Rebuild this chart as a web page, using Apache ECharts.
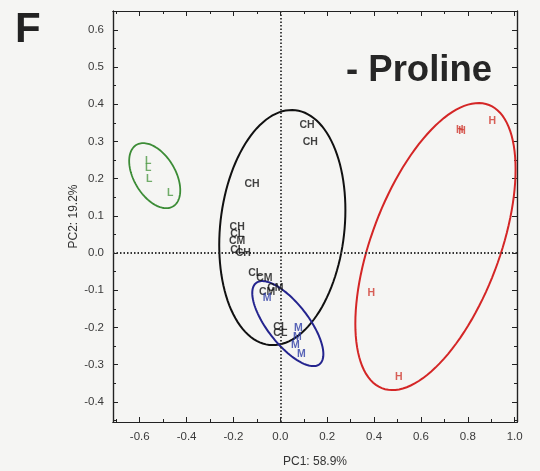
<!DOCTYPE html>
<html>
<head>
<meta charset="utf-8">
<script src="https://cdn.jsdelivr.net/npm/echarts@6/dist/echarts.min.js"></script>
<style>
html,body{margin:0;padding:0;background:#f5f5f3;}
#chart{width:540px;height:471px;}
</style>
</head>
<body>
<div id="chart"></div>
<script>
// Tick values
const xTickLabels = [-0.6, -0.4, -0.2, 0.0, 0.2, 0.4, 0.6, 0.8, 1.0];
const xMinorTicks = [-0.7, -0.5, -0.3, -0.1, 0.1, 0.3, 0.5, 0.7, 0.9];
const yTickLabels = [-0.4, -0.3, -0.2, -0.1, 0.0, 0.1, 0.2, 0.3, 0.4, 0.5, 0.6];
const yMinorTicks = [-0.45, -0.35, -0.25, -0.15, -0.05, 0.05, 0.15, 0.25, 0.35, 0.45, 0.55, 0.65];

// Scores: [PC1, PC2, label]
const groupL = [
  [-0.564, 0.247, 'L'], [-0.564, 0.228, 'L'], [-0.560, 0.199, 'L'], [-0.470, 0.161, 'L']
];
const groupC = [
  [0.114, 0.344, 'CH'], [0.128, 0.298, 'CH'], [-0.121, 0.185, 'CH'],
  [-0.184, 0.070, 'CH'], [-0.184, 0.051, 'CL'], [-0.184, 0.032, 'CM'], [-0.184, 0.008, 'CL'],
  [-0.158, 0.000, 'CH'], [-0.107, -0.054, 'CL'], [-0.068, -0.067, 'CM'],
  [-0.021, -0.094, 'CM'], [-0.056, -0.105, 'CM'],
  [0.000, -0.198, 'CL'], [0.000, -0.215, 'CL']
];
const groupM = [
  [-0.056, -0.121, 'M'], [0.077, -0.202, 'M'], [0.073, -0.226, 'M'], [0.064, -0.247, 'M'], [0.090, -0.272, 'M']
];
const groupH = [
  [0.766, 0.331, 'H'], [0.775, 0.328, 'H'], [0.905, 0.355, 'H'], [0.388, -0.108, 'H'], [0.506, -0.334, 'H']
];

// Confidence ellipses: centre (cx, cy) and two conjugate semi-axis vectors (ux, uy), (vx, vy)
const ellipseL = [-0.536, 0.208, 0.109, -0.0394, 0.0, -0.078];
const ellipseC = [0.0085, 0.0685, 0.2692, 0.0469, 0.0, -0.3124];
const ellipseM = [0.032, -0.1895, 0.1517, -0.082, 0.0, -0.0796];
const ellipseH = [0.662, 0.0175, 0.3419, 0.2073, 0.0, -0.3253];

const colL = '#4f9a45', colLe = '#3c8c36';
const colC = '#111111', colCe = '#111111';
const colM = '#2f3fa6', colMe = '#24248e';
const colH = '#d0382e', colHe = '#d42626';

const X_MIN = -0.714, X_MAX = 1.01, Y_MIN = -0.454, Y_MAX = 0.6505;

function ellipseSeries(params, color, width) {
  return {
    type: 'custom',
    xAxisIndex: 0, yAxisIndex: 0,
    data: [params],
    encode: { x: 0, y: 1 },
    silent: true,
    z: 2,
    renderItem: function (p, api) {
      const cx = api.value(0), cy = api.value(1), ux = api.value(2), uy = api.value(3), vx = api.value(4), vy = api.value(5);
      const pts = [];
      const n = 120;
      for (let i = 0; i < n; i++) {
        const t = 2 * Math.PI * i / n;
        pts.push(api.coord([cx + ux * Math.cos(t) + vx * Math.sin(t), cy + uy * Math.cos(t) + vy * Math.sin(t)]));
      }
      return { type: 'polygon', shape: { points: pts }, style: { fill: 'none', stroke: color, lineWidth: width } };
    }
  };
}

function labelSeries(data, color) {
  return {
    type: 'scatter',
    xAxisIndex: 0, yAxisIndex: 0,
    data: data,
    symbolSize: 1,
    itemStyle: { color: 'rgba(0,0,0,0)' },
    z: 5,
    label: {
      show: true, position: 'inside',
      formatter: p => p.data[2],
      color: color, fontSize: 10.5, fontWeight: 'bold', fontFamily: 'Liberation Sans, Arial, sans-serif'
    },
    labelLayout: { hideOverlap: false },
    emphasis: { disabled: true }
  };
}

const fmt = v => (Math.abs(v) < 1e-9 ? 0 : v).toFixed(1);
const axisLineStyle = { color: '#222', width: 1.2 };
const tickStyle = { color: '#222', width: 1 };
const labelFont = { color: '#3a3a3a', fontSize: 11.5, fontFamily: 'Liberation Sans, Arial, sans-serif' };

function xAx(pos, values, len, labels, extra) {
  return Object.assign({
    type: 'value', position: pos, min: X_MIN, max: X_MAX,
    axisLine: { show: true, onZero: false, lineStyle: axisLineStyle },
    axisTick: { show: true, inside: true, length: len, customValues: values, lineStyle: tickStyle },
    axisLabel: labels ? Object.assign({ show: true, customValues: values, formatter: fmt, margin: 9 }, labelFont) : { show: false },
    splitLine: { show: false }
  }, extra || {});
}
function yAx(pos, values, len, labels, extra) {
  return Object.assign({
    type: 'value', position: pos, min: Y_MIN, max: Y_MAX,
    axisLine: { show: true, onZero: false, lineStyle: axisLineStyle },
    axisTick: { show: true, inside: true, length: len, customValues: values, lineStyle: tickStyle },
    axisLabel: labels ? Object.assign({ show: true, customValues: values, formatter: fmt, margin: 9 }, labelFont) : { show: false },
    splitLine: { show: false }
  }, extra || {});
}

const chart = echarts.init(document.getElementById('chart'), null, { renderer: 'canvas' });
chart.setOption({
  backgroundColor: '#f5f5f3',
  animation: false,
  grid: { left: 113, right: 23, top: 11, bottom: 49, containLabel: false, outerBoundsMode: 'none' },
  xAxis: [
    xAx('bottom', xTickLabels, 5, true, {
      name: 'PC1: 58.9%', nameLocation: 'middle', nameGap: 34, nameMoveOverlap: false,
      nameTextStyle: { color: '#333', fontSize: 12, fontFamily: 'Liberation Sans, Arial, sans-serif' }
    }),
    xAx('bottom', xMinorTicks, 3, false),
    xAx('top', xTickLabels, 5, false),
    xAx('top', xMinorTicks, 3, false)
  ],
  yAxis: [
    yAx('left', yTickLabels, 5, true, {
      name: 'PC2: 19.2%', nameLocation: 'middle', nameGap: 33, nameRotate: 90, nameMoveOverlap: false,
      nameTextStyle: { color: '#333', fontSize: 12, fontFamily: 'Liberation Sans, Arial, sans-serif' }
    }),
    yAx('left', yMinorTicks, 3, false),
    yAx('right', yTickLabels, 5, false),
    yAx('right', yMinorTicks, 3, false)
  ],
  graphic: [
    { type: 'text', x: 15, y: 30, style: { text: 'F', fontSize: 42, fontWeight: 'bold', fill: '#222', fontFamily: 'Liberation Sans, Arial, sans-serif', verticalAlign: 'middle', textAlign: 'left' } },
    { type: 'text', x: 346, y: 71, style: { text: '- Proline', fontSize: 36.5, fontWeight: 'bold', fill: '#262626', fontFamily: 'Liberation Sans, Arial, sans-serif', verticalAlign: 'middle', textAlign: 'left' } }
  ],
  series: [
    {
      type: 'line', xAxisIndex: 0, yAxisIndex: 0, data: [], z: 1,
      markLine: {
        silent: true, symbol: ['none', 'none'], label: { show: false },
        lineStyle: { color: '#333', width: 1.8, type: [1.5, 2] },
        data: [{ xAxis: 0 }, { yAxis: 0 }]
      }
    },
    ellipseSeries(ellipseL, colLe, 1.8),
    ellipseSeries(ellipseC, colCe, 2),
    ellipseSeries(ellipseM, colMe, 2),
    ellipseSeries(ellipseH, colHe, 2),
    labelSeries(groupL, colL),
    labelSeries(groupC, colC),
    labelSeries(groupM, colM),
    labelSeries(groupH, colH)
  ]
});
</script>
</body>
</html>
